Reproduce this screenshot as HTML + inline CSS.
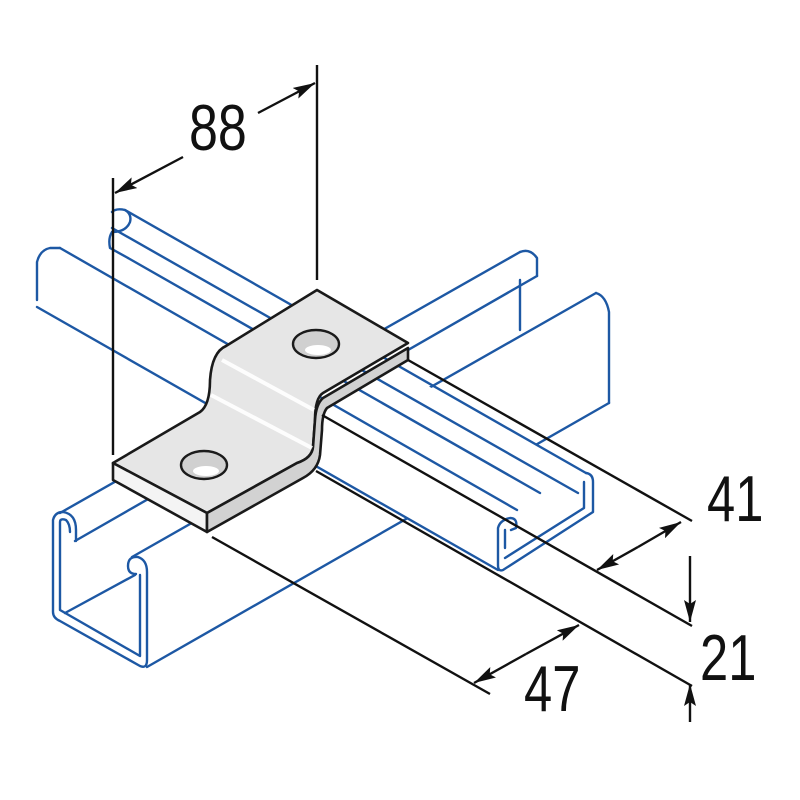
<!DOCTYPE html>
<html><head><meta charset="utf-8"><style>html,body{margin:0;padding:0;background:#fff}svg{display:block}</style></head>
<body>
<svg width="800" height="800" viewBox="0 0 800 800" xmlns="http://www.w3.org/2000/svg">
<defs>
<marker id="ah" viewBox="0 0 22 12" refX="22" refY="6" markerWidth="22" markerHeight="12" orient="auto" markerUnits="userSpaceOnUse"><path d="M0,0 L22,6 L0,12 L4,6 z" fill="#111"/></marker>
</defs>
<g fill="none" stroke="#1d58a4" stroke-width="2.4" stroke-linejoin="round" stroke-linecap="round">
<line x1="147" y1="667" x2="609" y2="403"/>
<line x1="60" y1="513" x2="520" y2="252"/>
<line x1="75" y1="541" x2="537" y2="276"/>
<line x1="132" y1="557" x2="596" y2="293"/>
<line x1="65" y1="613" x2="135" y2="575"/>
<path d="M520,252 Q530,248 537,258 L537,276 M520,280 L520,330"/>
<path d="M596,293 Q606,296 609,312 L609,403"/>
<path d="M53,520 Q55,512 63,512 Q76,514 76,530 L76,541 M53,520 L53,612 Q53,618 60,621 L140,666 Q147,669 147,660 L147,572 Q147,560 138,557 Q128,556 128,566 Q128,574 136,574"/>
<path d="M60,522 Q60,518 66,520 Q70,524 70,532 M60,522 L60,610 L140,656 L140,575"/>
</g>
<polygon points="112,212 586,473 593,520 498,570 37,307 37,258" fill="#fff"/>
<g fill="none" stroke="#1d58a4" stroke-width="2.4" stroke-linejoin="round" stroke-linecap="round">
<line x1="125" y1="210" x2="586" y2="473"/>
<line x1="128" y1="258" x2="540" y2="493"/>
<line x1="112" y1="228" x2="578" y2="493"/>
<line x1="60" y1="248" x2="517" y2="510"/>
<line x1="37" y1="307" x2="498" y2="570"/>
<path d="M112,212 Q116,208 125,210 Q132,214 130,222 Q126,232 112,232 M112,232 Q108,238 110,248 L128,258"/>
<path d="M37,300 L37,262 Q40,250 50,248 L60,248"/>
<path d="M586,473 Q593,474 593,482 L593,512 L503,570 Q498,572 498,565 L498,528 Q500,520 510,518 Q518,518 516,528 L511,530"/>
<path d="M584,482 L584,508 L505,558 M505,548 L505,530"/>
</g>
<g stroke="#1a1a1a" stroke-width="2.6" stroke-linejoin="round">
<path d="M113,463 L200,412 Q210,405 210,380 Q212,352 226,346 L317,290 L408,343 L323,393 Q315,398 315,420 L313,447 Q312,458 297,463 L207,513 Z" fill="#e6e6e6"/>
<path d="M113,463 L207,513 L207,532 L113,480 Z" fill="#f4f4f4"/>
<path d="M207,513 L297,463 Q312,458 313,447 L315,420 Q316,404 323,398 L408,348 L408,360 L327,408 Q322,414 322,430 L320,455 Q318,470 303,478 L207,532 Z" fill="#d2d2d2"/>
</g>
<path d="M222,360 L314,410 M211,395 L312,448" stroke="#fff" stroke-width="4" fill="none" opacity="0.9"/>
<g stroke="#1a1a1a" stroke-width="2.4">
<ellipse cx="316" cy="344" rx="23" ry="14" fill="#d0d0d0"/>
<ellipse cx="318" cy="350" rx="13" ry="5" fill="#fff" stroke="none"/>
<ellipse cx="204" cy="465" rx="23" ry="14" fill="#d0d0d0"/>
<ellipse cx="206" cy="471" rx="13" ry="5" fill="#fff" stroke="none"/>
</g>
<g stroke="#111" stroke-width="2.4" fill="none">
<line x1="113" y1="178" x2="113" y2="455"/>
<line x1="317" y1="65" x2="317" y2="280"/>
<line x1="183" y1="157" x2="115" y2="193" marker-end="url(#ah)"/>
<line x1="258" y1="113" x2="315" y2="83" marker-end="url(#ah)"/>
<line x1="408" y1="360" x2="692" y2="521"/>
<line x1="322" y1="415" x2="692" y2="626"/>
<line x1="316" y1="471" x2="692" y2="686"/>
<line x1="212" y1="537" x2="490" y2="694"/>
<line x1="638" y1="547" x2="597" y2="570" marker-end="url(#ah)"/>
<line x1="638" y1="547" x2="681" y2="522" marker-end="url(#ah)"/>
<line x1="526" y1="654" x2="474" y2="683" marker-end="url(#ah)"/>
<line x1="526" y1="654" x2="579" y2="625" marker-end="url(#ah)"/>
<line x1="690" y1="556" x2="690" y2="622" marker-end="url(#ah)"/>
<line x1="690" y1="722" x2="690" y2="684" marker-end="url(#ah)"/>
</g>
<g font-family="Liberation Sans, sans-serif" font-size="65" fill="#111">
<text transform="translate(189,150) scale(0.8,1)">88</text>
<text transform="translate(707,521) scale(0.78,1)">41</text>
<text transform="translate(700,680) scale(0.78,1)">21</text>
<text transform="translate(524,711) scale(0.78,1)">47</text>
</g>
</svg>
</body></html>
